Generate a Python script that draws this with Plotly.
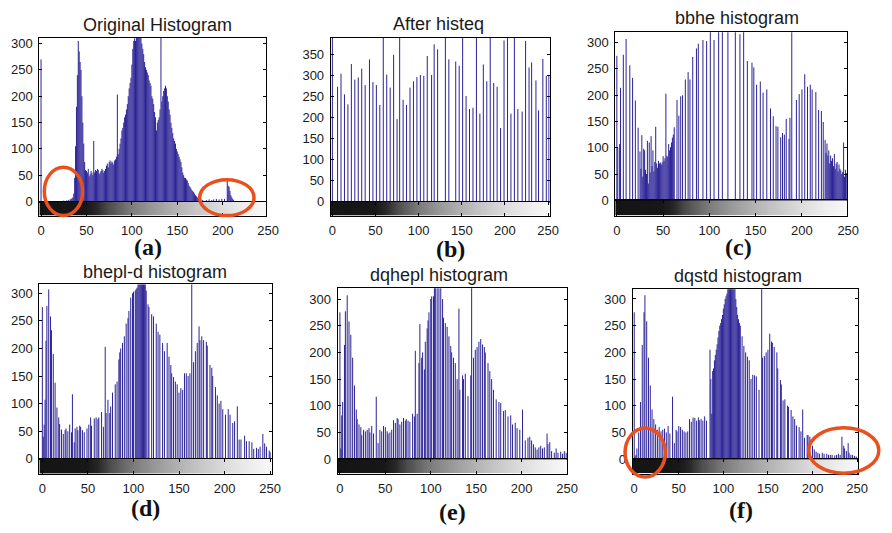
import numpy as np
import plotly.graph_objects as go

W, H = 892, 533

# ------------------------------------------------------------------ data
# (a) Original Histogram
A_LEVELS = ([0, 5, 10, 15, 20, 25, 28, 30, 32, 33, 34, 35]
            + list(range(36, 176))
            + [178, 182, 185, 188, 190, 193, 196, 199, 202, 205, 206, 207, 208, 209, 210, 211, 212])
A_COUNTS = [270, 1, 1, 1, 1, 2, 2, 3, 4, 5, 6, 8,
            15, 45, 105, 180, 240, 305, 285, 265, 250, 200,
            150, 110, 75, 60, 58, 55, 62, 48, 52, 58,
            55, 50, 115, 55, 60, 58, 62, 60, 52, 55,
            58, 62, 60, 55, 58, 62, 68, 72, 65, 75,
            78, 72, 76, 74, 70, 78, 80, 85, 203, 90,
            100, 110, 120, 135, 140, 150, 160, 165, 175, 185,
            200, 215, 225, 235, 260, 290, 305, 310, 305, 330,
            330, 330, 330, 330, 330, 300, 290, 280, 265, 255,
            250, 245, 240, 230, 225, 220, 200, 195, 185, 170,
            160, 135, 150, 155, 160, 175, 330, 190, 200, 210,
            215, 220, 215, 200, 190, 175, 165, 150, 140, 130,
            120, 115, 110, 100, 95, 90, 85, 80, 75, 65,
            55, 50, 45, 45, 42, 40, 35, 30, 28, 25,
            22, 20, 18, 15, 12, 10, 8, 6, 5, 4,
            3, 3, 4, 3, 4, 5, 4, 5, 5, 40, 30, 28, 20, 12, 8, 5, 3]

# (b) After histeq
B_LEVELS = [0, 6, 10, 14, 18, 22, 26, 30, 34, 38,
            43, 47, 51, 55, 59, 63, 67, 71, 75, 78,
            82, 86, 90, 94, 98, 102, 106, 110, 115, 118,
            122, 131, 135, 143, 147, 151, 155, 159, 163, 167,
            171, 175, 179, 183, 187, 191, 195, 199, 203, 207,
            211, 215, 220, 224, 228, 231, 236, 239, 244, 248,
            251]
B_COUNTS = [400, 273, 304, 255, 231, 327, 290, 295, 316, 277,
            338, 284, 277, 230, 400, 302, 271, 349, 196, 400,
            242, 230, 271, 286, 296, 301, 299, 346, 301, 374,
            362, 400, 338, 333, 323, 400, 251, 220, 223, 400,
            209, 326, 286, 400, 282, 273, 175, 383, 400, 209,
            400, 220, 214, 382, 319, 331, 288, 217, 339, 299,
            299]

# (c) bbhe histogram
C_LEVELS = [0, 1, 3, 4, 7, 10, 14, 17, 20, 23,
            25, 26, 27, 28, 29, 30, 31, 32, 33, 34,
            35, 36, 37, 38, 39, 40, 41, 42, 43, 44,
            45, 46, 47, 48, 49, 50, 51, 52, 53, 54,
            55, 56, 57, 58, 59, 60, 61, 62, 65, 67,
            69, 71, 74, 77, 79, 82, 86, 88, 93, 97,
            101, 105, 110, 114, 120, 128, 133, 137, 141, 146,
            148, 151, 155, 158, 162, 166, 169, 172, 174, 177,
            179, 181, 183, 186, 187, 189, 194, 197, 200, 203,
            206, 209, 211, 215, 218, 221, 223, 225, 226, 227,
            228, 229, 230, 231, 232, 233, 234, 235, 236, 237,
            238, 239, 240, 241, 242, 243, 244, 245, 246, 247,
            248]
C_COUNTS = [275, 100, 107, 214, 277, 307, 257, 233, 190, 138,
            93, 60, 124, 45, 98, 95, 58, 50, 113, 32,
            110, 53, 122, 65, 95, 55, 73, 140, 70, 62,
            75, 70, 72, 68, 72, 84, 75, 80, 203, 85,
            83, 107, 95, 101, 110, 119, 125, 139, 191, 161,
            198, 200, 230, 244, 230, 273, 289, 298, 305, 303,
            330, 305, 330, 330, 330, 330, 316, 330, 265, 262,
            253, 220, 226, 205, 211, 175, 160, 141, 140, 120,
            128, 125, 155, 117, 157, 330, 191, 202, 211, 240,
            216, 220, 211, 206, 172, 170, 149, 115, 90, 108,
            85, 95, 70, 85, 75, 80, 65, 88, 60, 70,
            73, 55, 68, 60, 57, 50, 54, 110, 45, 58,
            52]

# (d) bhepl-d histogram
D_LEVELS = [0, 1, 2, 3, 4, 5, 7, 9, 10, 12,
            14, 16, 18, 19, 21, 23, 25, 26, 28, 30,
            32, 33, 35, 36, 38, 39, 41, 42, 44, 46,
            49, 51, 53, 54, 57, 59, 61, 62, 65, 67,
            69, 70, 72, 74, 75, 77, 80, 82, 84, 85,
            86, 88, 90, 92, 94, 95, 97, 99, 100, 102,
            103, 104, 105, 106, 107, 108, 109, 110, 111, 112,
            113, 114, 116, 117, 120, 122,
            125, 127, 129, 132, 134, 137, 139, 141, 142, 144,
            146, 148, 150, 152, 154, 156, 158, 160, 162, 164,
            166, 168, 170, 172, 173, 175, 177, 180, 181, 184,
            186, 187, 190, 192, 194, 196, 198, 201, 204, 206,
            209, 211, 214, 216, 218, 222, 224, 227, 230, 232,
            235, 237, 239, 242, 244, 246, 249, 250]
D_COUNTS = [275, 40, 62, 107, 214, 277, 307, 258, 233, 190,
            138, 93, 75, 63, 53, 45, 52, 55, 50, 62,
            48, 117, 30, 55, 58, 52, 60, 58, 52, 48,
            55, 62, 75, 60, 73, 75, 72, 75, 85, 58,
            203, 83, 107, 83, 95, 120, 135, 140, 180, 193,
            200, 210, 222, 245, 255, 268, 292, 300, 303, 305,
            308, 310, 330, 330, 330, 330, 330, 330, 330, 330,
            318, 305, 280, 275, 262, 258,
            245, 230, 225, 210, 195, 210, 185, 170, 155, 148,
            140, 135, 120, 128, 125, 155, 155, 150, 155, 330,
            175, 195, 210, 240, 215, 222, 215, 212, 205, 170,
            165, 150, 130, 115, 100, 105, 90, 80, 90, 80,
            65, 68, 95, 35, 35, 42, 32, 32, 30, 18,
            20, 18, 22, 45, 28, 22, 15, 12]

# (e) dqhepl histogram
E_LEVELS = [0, 1, 2, 3, 5, 6, 8, 10, 12, 14,
            16, 18, 19, 21, 23, 24, 26, 28, 30, 32,
            33, 35, 37, 40, 42, 44, 46, 48, 50, 52,
            53, 55, 57, 59, 61, 63, 64, 66, 68, 70,
            72, 73, 75, 77, 80, 82, 83, 85, 87, 88,
            90, 91, 93, 94, 96, 97, 98, 100, 101, 103,
            104, 105, 107, 109, 111, 113, 114, 116, 118, 120,
            122, 123, 125, 127, 129, 131, 132, 135, 136, 138,
            141, 144, 145, 147, 149, 151, 153, 155, 157, 159,
            160, 163, 165, 167, 169, 172, 175, 177, 180, 182,
            185, 188, 190, 193, 195, 198, 201, 204, 207, 209,
            211, 213, 215, 217, 219, 221, 223, 225, 228, 229,
            231, 233, 236, 238, 240, 243, 245, 247, 249]
E_COUNTS = [275, 20, 82, 107, 214, 277, 307, 258, 233, 190,
            138, 93, 75, 65, 60, 45, 55, 52, 55, 58,
            50, 62, 48, 117, 30, 55, 52, 62, 60, 52,
            48, 50, 55, 73, 68, 77, 75, 65, 70, 77,
            72, 75, 72, 70, 85, 80, 203, 85, 180, 253,
            190, 200, 168, 220, 245, 260, 275, 300, 305, 305,
            330, 330, 330, 330, 330, 300, 265, 255, 248, 230,
            212, 200, 190, 180, 150, 282, 130, 157, 150, 160,
            118, 157, 330, 190, 205, 210, 220, 225, 215, 210,
            200, 180, 165, 150, 130, 112, 107, 105, 90, 92,
            80, 82, 65, 68, 58, 55, 93, 35, 40, 42,
            35, 28, 22, 18, 22, 25, 20, 22, 48, 28,
            32, 15, 12, 20, 12, 14, 10, 15, 12]

# (f) dqstd histogram
F_LEVELS = [0, 1, 2, 3, 5, 7, 9, 11, 12, 14,
            16, 18, 20, 22, 24, 26, 28, 30, 32, 34,
            36, 38, 40, 43, 45, 47, 48, 50, 52, 54,
            56, 58, 60, 62, 64, 66, 68, 70, 72, 73,
            75, 77, 79, 81, 85, 86, 87, 88, 89, 90,
            91, 92, 93, 94, 95, 96, 97, 98, 99, 100,
            101, 102, 103, 104, 105, 106, 107, 108, 109, 110,
            111, 112, 113, 114, 115, 116, 117, 118, 119, 121,
            123, 125, 127, 129, 131, 133, 135, 137, 140, 143,
            144, 146, 148, 150, 152, 154, 155, 157, 160, 161,
            164, 165, 167, 169, 172, 173, 176, 178, 180, 182,
            185, 187, 189, 191, 194, 195, 197, 200, 202, 204,
            206, 208, 211, 213, 216, 218, 220, 222, 225, 227,
            229, 231, 233, 235, 236, 238, 240, 241, 243, 245,
            247, 249]
F_COUNTS = [275, 5, 8, 20, 50, 107, 214, 275, 307, 258,
            190, 138, 93, 75, 65, 55, 60, 52, 55, 57,
            50, 62, 48, 117, 30, 55, 52, 62, 60, 55,
            52, 50, 52, 75, 70, 78, 77, 72, 78, 73,
            75, 72, 80, 72, 205, 150, 85, 165, 170, 185,
            195, 205, 215, 228, 240, 250, 255, 262, 270, 282,
            290, 300, 305, 310, 320, 330, 330, 330, 330, 330,
            330, 330, 320, 300, 285, 270, 262, 255, 250, 230,
            212, 200, 192, 185, 150, 158, 157, 155, 130, 330,
            190, 193, 200, 205, 235, 220, 218, 210, 200, 170,
            148, 140, 110, 112, 100, 98, 92, 80, 75, 63,
            60, 52, 93, 40, 45, 45, 42, 25, 18, 14,
            12, 10, 12, 10, 10, 8, 8, 8, 7, 8,
            10, 8, 42, 25, 20, 15, 30, 12, 8, 8,
            6, 5]

X_TICKS = [0, 50, 100, 150, 200, 250]
GRAY_LEVELS = list(range(256))

# ------------------------------------------------------------------ layout config (pixels)
# box = (left, right, top, zero line, bottom of gray bar); lab = pixel x of tick labels 0 and 250
PANELS = [
    dict(title="Original Histogram", tag="(a)", lv=A_LEVELS, ct=A_COUNTS,
         box=(36, 266.7, 37.3, 204, 218.3), lab=(37.67, 268.67), ymax=311.2,
         yt=[0, 50, 100, 150, 200, 250, 300], txy=(155.8, 24), gxy=(146.7, 250)),
    dict(title="After histeq", tag="(b)", lv=B_LEVELS, ct=B_COUNTS,
         box=(332.3, 555, 37.3, 204, 218.3), lab=(334, 553.33), ymax=389.7,
         yt=[0, 50, 100, 150, 200, 250, 300, 350], txy=(442, 23.3), gxy=(454, 252)),
    dict(title="bbhe histogram", tag="(c)", lv=C_LEVELS, ct=C_COUNTS,
         box=(621.7, 857.3, 31.7, 202.7, 218.3), lab=(623.33, 858.67), ymax=320,
         yt=[0, 50, 100, 150, 200, 250, 300], txy=(745.5, 17.5), gxy=(747.5, 250)),
    dict(title="bhepl-d histogram", tag="(d)", lv=D_LEVELS, ct=D_COUNTS,
         box=(36, 272.7, 288.3, 465.7, 480.7), lab=(39, 270.67), ymax=316,
         yt=[0, 50, 100, 150, 200, 250, 300], txy=(153.8, 276), gxy=(143.5, 516)),
    dict(title="dqhepl histogram", tag="(e)", lv=E_LEVELS, ct=E_COUNTS,
         box=(339.3, 572.7, 292.3, 466, 480.7), lab=(341.67, 572.67), ymax=320,
         yt=[0, 50, 100, 150, 200, 250, 300], txy=(442, 279), gxy=(456.5, 520)),
    dict(title="dqstd histogram", tag="(f)", lv=F_LEVELS, ct=F_COUNTS,
         box=(639.3, 868.7, 293.3, 466, 480.7), lab=(641, 867.67), ymax=318,
         yt=[0, 50, 100, 150, 200, 250, 300], txy=(746.7, 280), gxy=(750, 518)),
]

ELLIPSES = [  # pixel boxes (x0, x1, y0, y1) of the stroke centre
    (41, 80, 169, 218.3),
    (199, 254.3, 181.7, 218.3),
    (631.7, 672.6, 434.4, 484.3),
    (818.4, 889.8, 434.2, 480.3),
]

STEM_COLOR = "#2c2396"
ELLIPSE_COLOR = "#e8501e"
SANS = "Liberation Sans, Arial, Helvetica, sans-serif"
SERIF = "Liberation Serif, Times New Roman, serif"
TICK_FONT = dict(family=SANS, size=13, color="#1a1a1a")
GRAY_SCALE = [[0.0, "#141414"], [0.2, "#171717"], [0.25, "#262626"], [0.3, "#4a4a4a"],
              [0.4, "#7a7a7a"], [0.5, "#999999"], [0.6, "#b2b2b2"], [0.7, "#c8c8c8"],
              [0.8, "#dcdcdc"], [0.9, "#ececec"], [1.0, "#f8f8f8"]]


def px(x):
    return x / W


def py(y):
    return 1 - y / H


def kx(k):
    return "xaxis" if k == 1 else f"xaxis{k}"


def ky(k):
    return "yaxis" if k == 1 else f"yaxis{k}"


fig = go.Figure()
layout = dict(width=W, height=H, margin=dict(l=0, r=0, t=0, b=0),
              paper_bgcolor="white", plot_bgcolor="rgba(0,0,0,0)", showlegend=False)
annotations = []
n_panels = len(PANELS)

for i, p in enumerate(PANELS):
    hx, cx = 2 * i + 1, 2 * i + 2          # histogram axes, gray-bar axes
    lx = 2 * n_panels + 1 + i              # tick-label x axis
    L, R, T, Z, B = p["box"]
    l0, l250 = p["lab"]
    s = (l250 - l0) / 250.0
    xr = [(L - l0) / s, (R - l0) / s]
    n = min(len(p["lv"]), len(p["ct"]))

    layout[kx(hx)] = dict(domain=[px(L), px(R)], range=xr, anchor=f"y{hx}",
                          showticklabels=False, ticks="", showline=True, linecolor="black",
                          linewidth=1, mirror=True, showgrid=False, zeroline=False, fixedrange=True)
    layout[ky(hx)] = dict(domain=[py(Z), py(T)], range=[0, p["ymax"]], anchor=f"x{hx}",
                          tickvals=p["yt"], ticks="inside", ticklen=3, tickcolor="black",
                          showline=True, linecolor="black", linewidth=1, mirror="ticks",
                          showgrid=False, zeroline=False, tickfont=TICK_FONT,
                          ticklabelstandoff=3, fixedrange=True)
    layout[kx(cx)] = dict(domain=[px(L), px(R)], range=xr, anchor=f"y{cx}",
                          tickvals=X_TICKS, ticks="inside", ticklen=3, tickcolor="black",
                          showticklabels=False, showline=True, linecolor="black", linewidth=1,
                          mirror="ticks", showgrid=False, zeroline=False, fixedrange=True)
    layout[ky(cx)] = dict(domain=[py(B), py(Z)], range=[0, 1], anchor=f"x{cx}",
                          showticklabels=False, ticks="", showline=True, linecolor="black",
                          linewidth=1, mirror=True, showgrid=False, zeroline=False, fixedrange=True)
    layout[kx(lx)] = dict(domain=[px(l0), px(l250)], range=[0, 250], anchor=f"y{cx}",
                          tickvals=X_TICKS, ticks="", showline=False, showgrid=False,
                          zeroline=False, tickfont=TICK_FONT, ticklabelstandoff=5,
                          fixedrange=True)

    # gray bar under the histogram
    edges = np.linspace(xr[0], xr[1], len(GRAY_LEVELS) + 1)
    fig.add_trace(go.Heatmap(z=[GRAY_LEVELS], x=edges, y=[0, 1], xaxis=f"x{cx}", yaxis=f"y{cx}",
                             colorscale=GRAY_SCALE, zmin=0, zmax=255, showscale=False,
                             hoverinfo="skip"))
    # stems (MATLAB imhist style): one vertical line per gray level
    sx, sy = [], []
    for lv, ct in zip(p["lv"][:n], p["ct"][:n]):
        sx += [lv, lv, None]
        sy += [0, ct, None]
    fig.add_trace(go.Scatter(x=sx, y=sy, mode="lines", xaxis=f"x{hx}", yaxis=f"y{hx}",
                             line=dict(color=STEM_COLOR, width=1), hoverinfo="skip",
                             connectgaps=False))
    # invisible carrier so the tick-label axis is drawn
    fig.add_trace(go.Scatter(x=X_TICKS, y=[0.5] * len(X_TICKS), mode="markers",
                             xaxis=f"x{lx}", yaxis=f"y{cx}", marker=dict(opacity=0),
                             hoverinfo="skip"))

    annotations.append(dict(text=p["title"], x=px(p["txy"][0]), y=py(p["txy"][1]),
                            xref="paper", yref="paper", xanchor="center", yanchor="middle",
                            showarrow=False, font=dict(family=SANS, size=18, color="#1a1a1a")))
    annotations.append(dict(text=f"<b>{p['tag']}</b>", x=px(p["gxy"][0]), y=py(p["gxy"][1]),
                            xref="paper", yref="paper", xanchor="center", yanchor="middle",
                            showarrow=False, font=dict(family=SERIF, size=24, color="#111111")))

shapes = []
for (x0, x1, y0, y1) in ELLIPSES:
    shapes.append(dict(type="circle", xref="paper", yref="paper",
                       x0=px(x0), x1=px(x1), y0=py(y1), y1=py(y0),
                       line=dict(color=ELLIPSE_COLOR, width=3.5), layer="above"))

layout["annotations"] = annotations
layout["shapes"] = shapes
fig.update_layout(**layout)
fig.write_html("out.html")
